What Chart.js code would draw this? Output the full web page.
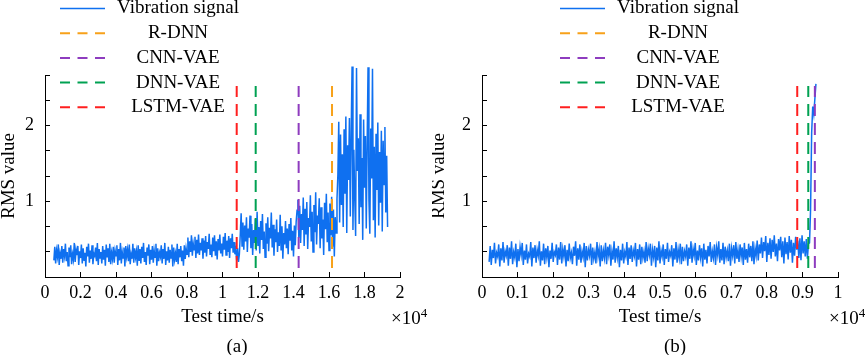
<!DOCTYPE html>
<html>
<head>
<meta charset="utf-8">
<script src="https://cdn.jsdelivr.net/npm/chart.js@4.4.0/dist/chart.umd.min.js"></script>
<style>
  body { margin: 0; background: #fff; }
  #wrap { position: relative; width: 865px; height: 355px; font-family: 'Liberation Serif', 'Times New Roman', serif; color: #000; }
  #wrap canvas { position: absolute; top: 0; }
  .cap { position: absolute; font-size: 19px; line-height: 22px; white-space: nowrap; }
  .cap sup { font-size: 13px; position: relative; top: -7px; vertical-align: baseline; }
</style>
</head>
<body>
<div id="wrap">
  <canvas id="chartA" width="432" height="355" style="left:0"></canvas>
  <canvas id="chartB" width="433" height="355" style="left:432px"></canvas>
  <div class="cap" style="left:391px;top:307px">×10<sup>4</sup></div>
  <div class="cap" style="left:829px;top:307px">×10<sup>4</sup></div>
  <div class="cap" style="left:207px;top:335px;width:60px;text-align:center">(a)</div>
  <div class="cap" style="left:645px;top:335px;width:60px;text-align:center">(b)</div>
</div>
<script>
// RMS of the vibration signal, panel (a): one value every 50 s starting at 500 s
const startA = 500, stepA = 50;
const rmsA = [
  0.22,0.40,0.18,0.35,0.27,0.43,0.16,0.31,0.24,0.41,
  0.19,0.37,0.28,0.44,0.21,0.33,0.15,0.39,0.26,0.42,
  0.17,0.30,0.23,0.45,0.20,0.36,0.29,0.41,0.16,0.34,
  0.25,0.43,0.18,0.38,0.22,0.32,0.14,0.40,0.27,0.44,
  0.19,0.35,0.24,0.42,0.17,0.31,0.28,0.39,0.21,0.45,
  0.16,0.37,0.25,0.33,0.18,0.41,0.23,0.36,0.15,0.43,
  0.26,0.38,0.20,0.44,0.17,0.32,0.24,0.40,0.19,0.35,
  0.28,0.42,0.16,0.37,0.22,0.45,0.18,0.33,0.25,0.39,
  0.14,0.41,0.27,0.36,0.21,0.43,0.17,0.30,0.24,0.44,
  0.19,0.38,0.26,0.34,0.15,0.42,0.22,0.37,0.18,0.40,
  0.25,0.45,0.20,0.33,0.16,0.39,0.28,0.43,0.17,0.36,
  0.23,0.41,0.19,0.35,0.26,0.44,0.15,0.38,0.21,0.32,
  0.27,0.42,0.18,0.37,0.24,0.45,0.16,0.34,0.22,0.40,
  0.19,0.36,0.25,0.43,0.14,0.39,0.23,0.31,0.20,0.44,
  0.17,0.37,0.26,0.41,0.21,0.35,0.15,0.42,0.24,0.38,
  // 0.8e4 - 1.07e4
  0.30,0.52,0.26,0.47,0.33,0.55,0.28,0.44,0.36,0.53,
  0.25,0.49,0.31,0.56,0.29,0.45,0.35,0.51,0.24,0.48,
  0.32,0.54,0.27,0.46,0.37,0.57,0.30,0.43,0.26,0.52,
  0.34,0.55,0.28,0.47,0.23,0.50,0.35,0.56,0.31,0.44,
  0.27,0.53,0.36,0.58,0.29,0.48,0.33,0.54,0.25,0.51,
  0.38,0.57,0.32,0.46,0.30,
  0.36,0.22,0.38,0.20,0.30,
  // 1.1e4 - 1.415e4
  0.55,0.84,0.41,0.72,0.36,0.68,0.47,0.79,0.33,0.64,
  0.52,0.81,0.38,0.70,0.29,0.62,0.45,0.77,0.35,0.86,
  0.42,0.66,0.31,0.74,0.49,0.83,0.37,0.60,0.26,0.71,
  0.44,0.79,0.34,0.65,0.51,0.85,0.39,0.69,0.28,0.63,
  0.46,0.76,0.33,0.59,0.41,0.82,0.36,0.67,0.24,0.58,
  0.43,0.74,0.38,0.64,0.30,0.70,0.48,0.78,0.35,0.61,
  0.27,0.68,0.42,0.73,
  // 1.42e4 - 1.645e4
  0.88,1.02,0.52,0.94,0.45,0.83,0.62,1.05,0.41,0.90,
  0.56,0.99,0.37,0.78,0.66,1.08,0.47,0.86,0.33,0.95,
  0.59,1.12,0.43,0.81,0.70,1.04,0.38,0.92,0.51,0.76,
  0.29,0.98,0.63,1.10,0.46,0.85,0.35,0.97,0.55,1.06,
  0.40,0.89,0.27,0.79,0.58,1.03,
  // 1.65e4 - 1.93e4
  1.35,2.05,0.72,1.88,0.95,1.62,0.66,1.95,1.10,2.12,
  0.58,1.74,1.28,2.10,0.80,1.91,2.78,0.62,1.68,1.05,
  0.54,2.76,1.40,1.83,0.70,2.15,0.92,1.57,0.49,2.08,
  1.18,1.86,0.64,1.78,2.77,1.02,0.57,1.96,1.30,2.75,
  0.75,1.72,0.52,1.89,1.15,2.04,0.68,1.65,0.98,1.93,
  0.60,1.80,1.22,1.98,0.85,1.60,0.66
];

// panel (b): one value every 30 s starting at 200 s
const startB = 200, stepB = 30;
const rmsB = [
  0.20,0.41,0.16,0.36,0.25,0.45,0.18,0.32,0.27,0.43,
  0.14,0.38,0.22,0.46,0.19,0.34,0.28,0.42,0.15,0.39,
  0.24,0.47,0.17,0.33,0.26,0.44,0.13,0.37,0.21,0.40,
  0.29,0.45,0.16,0.35,0.23,0.43,0.18,0.31,0.27,0.46,
  0.14,0.39,0.25,0.42,0.19,0.36,0.28,0.47,0.15,0.34,
  0.22,0.44,0.17,0.38,0.26,0.41,0.13,0.35,0.24,0.45,
  0.20,0.33,0.29,0.43,0.16,0.39,0.23,0.46,0.18,0.37,
  0.27,0.42,0.14,0.36,0.21,0.44,0.25,0.32,0.17,0.40,
  0.28,0.47,0.15,0.38,0.23,0.43,0.19,0.34,0.26,0.45,
  0.13,0.41,0.22,0.36,0.28,0.44,0.16,0.39,0.24,0.33,
  0.18,0.46,0.27,0.37,0.14,0.42,0.21,0.35,0.25,0.45,
  0.17,0.40,0.29,0.43,0.15,0.34,0.23,0.47,0.19,0.38,
  0.26,0.41,0.13,0.36,0.22,0.44,0.18,0.33,0.27,0.46,
  0.16,0.39,0.24,0.42,0.20,0.35,0.28,0.45,0.14,0.37,
  0.23,0.43,0.17,0.40,0.25,0.34,0.19,0.46,0.21,0.38,
  0.29,0.44,0.15,0.36,0.26,0.41,0.13,0.39,0.22,0.47,
  0.18,0.35,0.27,0.43,0.16,0.37,0.24,0.45,0.20,0.33,
  0.28,0.42,0.14,0.38,0.23,0.46,0.19,0.36,0.25,0.44,
  0.17,0.40,0.21,0.34,0.27,0.43,0.15,0.39,0.24,0.47,
  0.19,0.37,0.28,0.45,0.16,0.35,0.22,0.42,0.26,0.38,
  0.14,0.44,0.23,0.36,0.18,0.41,0.27,0.46,0.20,0.34,
  0.25,0.43,0.16,0.39,0.29,0.47,0.19,0.37,0.22,0.45,
  0.17,0.40,0.26,0.35,0.21,0.44,0.15,0.38,0.28,0.42,
  0.18,0.46,0.24,0.36,0.20,0.43,0.27,0.39,0.16,0.45,
  0.23,0.37,0.19,0.44,0.26,0.41,0.21,0.47,0.17,0.38,
  // 0.77e4 - 0.92e4
  0.28,0.48,0.22,0.43,0.31,0.52,0.25,0.46,0.34,0.54,
  0.20,0.45,0.29,0.51,0.24,0.49,0.33,0.55,0.27,0.44,
  0.21,0.50,0.35,0.53,0.26,0.47,0.18,0.52,0.30,0.46,
  0.23,0.54,0.32,0.49,0.19,0.45,0.28,0.53,0.36,0.48,
  0.25,0.51,0.22,0.55,0.31,0.47,0.27,0.50,0.24,0.44,
  0.45,
  // failure
  0.90,1.90,2.25,2.15,2.35,2.55
];

// alarm times (s) of each method; null = no line in that panel
const methods = ['R-DNN', 'CNN-VAE', 'DNN-VAE', 'LSTM-VAE'];
const methodColors = ['#f7a11a', '#8e3cbf', '#00a152', '#ff1f1f'];
const alarmA = [16170, 14290, 11870, 10800];
const alarmB = [null, 9350, 9165, 8855];
const alarmSpan = [0.12, 2.52];

const yTop = 8 / 3;

Chart.defaults.font.family = "'Liberation Serif', 'Times New Roman', serif";
Chart.defaults.color = '#000';

// legend drawn as a column: line sample, then centred label
const columnLegend = {
  id: 'columnLegend',
  afterDraw(chart, args, opts) {
    const ctx = chart.ctx;
    ctx.save();
    ctx.font = "19px 'Liberation Serif'";
    ctx.textAlign = 'center';
    ctx.textBaseline = 'middle';
    chart.data.datasets.forEach((ds, i) => {
      const y = opts.top + i * opts.gap;
      ctx.strokeStyle = ds.borderColor;
      ctx.lineWidth = ds.borderDash ? 2 : 1.5;
      ctx.setLineDash(ds.borderDash ? [10, 7.5] : []);
      ctx.beginPath();
      ctx.moveTo(opts.left, y);
      ctx.lineTo(opts.left + 45, y);
      ctx.stroke();
      ctx.fillStyle = '#000';
      ctx.fillText(ds.label, opts.left + 118, y);
    });
    ctx.restore();
  }
};

function makeChart(id, start, step, rms, alarms, xMax, xStep, yWidth, titleShift, padRight, legendLeft) {
  const signal = rms.map((v, i) => ({ x: start + i * step, y: v }));
  const datasets = [{
    label: 'Vibration signal',
    data: signal,
    borderColor: '#0f70f0',
    borderWidth: 1.5,
    pointRadius: 0,
    clip: false,
    order: 10
  }];
  methods.forEach((m, k) => {
    const t = alarms[k];
    datasets.push({
      label: m,
      data: t === null ? [] : [{ x: t, y: alarmSpan[0] }, { x: t, y: alarmSpan[1] }],
      borderColor: methodColors[k],
      borderWidth: 2,
      borderDash: [12, 7],
      pointRadius: 0,
      order: 1
    });
  });

  return new Chart(document.getElementById(id), {
    type: 'line',
    data: { datasets },
    options: {
      responsive: false,
      animation: false,
      events: [],
      layout: { padding: { left: 0, right: padRight, top: 75, bottom: 23 } },
      plugins: {
        legend: { display: false },
        tooltip: { enabled: false },
        columnLegend: { left: legendLeft, top: 8.5, gap: 24.7 }
      },
      scales: {
        x: {
          type: 'linear',
          min: 0,
          max: xMax,
          afterFit: s => { s.height = 55; },
          grid: { drawOnChartArea: false, tickLength: -5, color: '#000' },
          border: { color: '#000', width: 1 },
          ticks: {
            stepSize: xStep,
            autoSkip: false,
            maxRotation: 0,
            padding: 10,
            font: { size: 18 },
            callback: v => String(+(v / 1e4).toFixed(2))
          },
          title: { display: true, text: 'Test time/s', font: { size: 19 }, padding: { top: 4, bottom: 4 } }
        },
        y: {
          min: 0,
          max: yTop,
          afterFit: s => { s.width = yWidth; },
          grid: { drawOnChartArea: false, tickLength: -5, color: '#000' },
          border: { color: '#000', width: 1 },
          ticks: {
            stepSize: 1 / 3,
            autoSkip: false,
            padding: 16,
            font: { size: 18 },
            callback: v => {
              const r = Math.round(v);
              return (Math.abs(v - r) < 1e-6 && r > 0) ? String(r) : '';
            }
          },
          title: { display: true, text: 'RMS value', font: { size: 19 }, padding: { top: titleShift, bottom: 0 } }
        }
      }
    },
    plugins: [columnLegend]
  });
}

makeChart('chartA', startA, stepA, rmsA, alarmA, 20000, 2000, 45, -2, 32, 60);
makeChart('chartB', startB, stepB, rmsB, alarmB, 10000, 1000, 50, -4, 27, 128);
</script>
</body>
</html>
